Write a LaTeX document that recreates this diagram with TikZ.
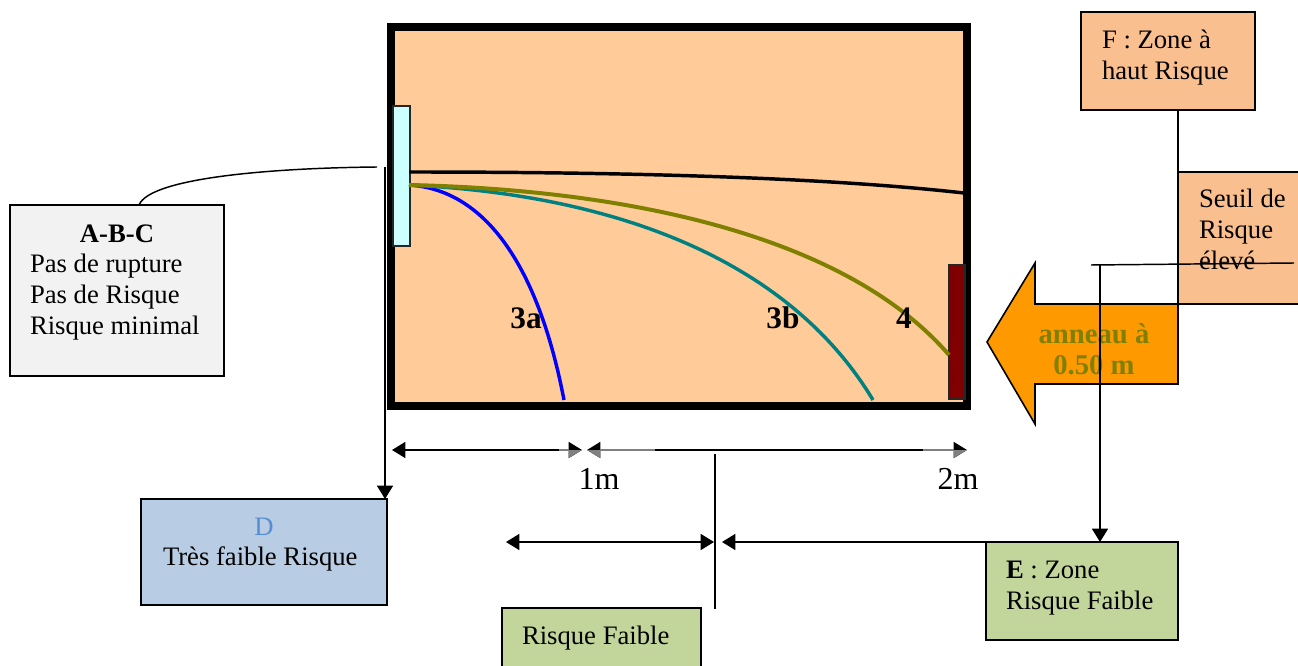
\documentclass[tikz,border=0pt]{standalone}
\usepackage{fontspec}
\setmainfont{Liberation Serif}
\usetikzlibrary{arrows.meta}
\definecolor{roomfill}{HTML}{FFCC99}
\definecolor{peach}{HTML}{FABF8F}
\definecolor{palegrey}{HTML}{F2F2F2}
\definecolor{paleblue}{HTML}{B8CCE4}
\definecolor{palegreen}{HTML}{C2D69B}
\definecolor{dlabel}{HTML}{558ED5}
\definecolor{olivec}{HTML}{808000}
\definecolor{tealc}{HTML}{008080}
\definecolor{orangec}{HTML}{FF9900}
\definecolor{cyanc}{HTML}{CCFFFF}
\definecolor{maroonc}{HTML}{800000}
\tikzset{
  x=0.75pt,y=-0.75pt,
  base/.style={inner sep=0pt,outer sep=0pt,anchor=north west},
  box/.style={base,draw=black,line width=1.5pt},
  txt/.style={inner sep=0pt,outer sep=0pt,anchor=west,align=left,font=\fontsize{20}{23.25}\selectfont},
  curvelabel/.style={inner sep=0pt,outer sep=0pt,font=\fontsize{23.5}{26}\selectfont\bfseries},
  conn/.style={black,line width=1.1pt},
  tip/.style={conn,-{Triangle[length=10pt,width=12pt]}},
  tips/.style={conn,{Triangle[length=10pt,width=12pt]}-{Triangle[length=10pt,width=12pt]}},
  curveline/.style={line width=2.6pt},
}
\begin{document}
\begin{tikzpicture}
\clip (0,0) rectangle (1298,666);
% room
\node[base,draw=black,fill=roomfill,line width=6pt,minimum width=432pt,minimum height=284.25pt] (room) at (391,27) {};
\node[box,fill=cyanc,draw=black!85,minimum width=12.5pt,minimum height=105pt] (source) at (393,106) {};
\node[box,fill=maroonc,draw=black!85,minimum width=12.5pt,minimum height=100pt] (ring) at (948.5,265.5) {};
% curves
\coordinate (s1) at (409,172);
\coordinate (s2) at (409,185);
\coordinate (e0) at (964,193);
\coordinate (e3a) at (564,400);
\coordinate (e3b) at (873,400);
\coordinate (e4) at (949,355);
\draw[curveline,blue] (s2) .. controls (490,190) and (540,275) .. (e3a);
\draw[curveline,tealc] (s2) .. controls (620,195) and (790,262) .. (e3b);
\draw[curveline,olivec,line width=3pt] (s2) .. controls (640,190) and (850,240) .. (e4);
\draw[curveline,black] (s1) .. controls (640,172) and (830,178) .. (e0);
\node[curvelabel] (l3a) at (526,318) {3a};
\node[curvelabel] (l3b) at (783,318) {3b};
\node[curvelabel] (l4) at (904,318) {4};
% boxes
\node[box,fill=palegrey,minimum width=160.5pt,minimum height=128.25pt] (abc) at (10,205) {};
\node[box,fill=paleblue,minimum width=184.5pt,minimum height=79.5pt] (d) at (141,499) {};
\node[box,fill=palegreen,minimum width=144pt,minimum height=73.5pt] (e) at (986,542) {};
\node[box,fill=palegreen,minimum width=149.25pt,minimum height=50pt] (rf) at (502,608) {};
\node[box,fill=peach,minimum width=130.5pt,minimum height=73.5pt] (f) at (1081,12) {};
\node[box,fill=peach,minimum width=110pt,minimum height=99pt] (seuil) at (1178,172) {};
% block arrow
\draw[fill=orangec,draw=black,line width=1.2pt,line join=miter]
  (1178,304) -- (1035,304) -- (1035,263) -- (987,342) -- (1035,424) -- (1035,384) -- (1178,384) -- cycle;
\node[inner sep=0pt,text=olivec,align=center,font=\fontsize{21.5}{23.25}\selectfont\bfseries] (ringlabel) at (1094,349) {anneau à\\0.50 m};
% texts
\node[inner sep=0pt,font=\fontsize{20}{23.25}\selectfont\bfseries] (abct) at (117,234) {A-B-C};
\node[txt] (abcb) at (30,297) {Pas de rupture\\Pas de Risque\\Risque minimal};
\node[inner sep=0pt,text=dlabel,font=\fontsize{20}{23.25}\selectfont] (dt) at (264,527) {D};
\node[txt] (db) at (163,559) {Très faible Risque};
\node[txt] (et) at (1006,588) {\textbf{E} : Zone\\Risque Faible};
\node[txt] (rft) at (522,638) {Risque Faible};
\node[txt] (ft) at (1102,58) {F : Zone à\\haut Risque};
\node[txt] (st) at (1199,229) {Seuil de\\Risque\\élevé};
\node[inner sep=0pt,font=\fontsize{24}{26}\selectfont] (m1) at (599,479) {1m};
\node[inner sep=0pt,font=\fontsize{24}{26}\selectfont] (m2) at (958,479) {2m};
% connectors
\coordinate (abcc) at (139,205);
\coordinate (srcc) at (377,167);
\draw[conn] (abcc) .. controls (150,178) and (270,168) .. (srcc);
\coordinate (dtop) at (385,167);
\draw[tip] (dtop) -- (d.north east -| dtop);
\draw[conn] (f.south -| seuil.north west) -- (seuil.north west);
\coordinate (hl) at (1091,265);
\coordinate (hr) at (1294,263);
\draw[conn] (hl) -- (hr);
\coordinate (ve) at (1100,265);
\draw[tip] (ve) -- (e.north west -| ve);
% dimensions
\coordinate (a1) at (392,450);
\coordinate (a2) at (582,450);
\coordinate (a3) at (587,450);
\coordinate (a4) at (967,450);
\draw[tips] (a1) -- (a2);
\draw[tips] (a3) -- (a4);
\fill[gray] (582,450) -- (569,450) -- (569,458) -- cycle;
\fill[gray] (587,450) -- (600,450) -- (600,458) -- cycle;
\fill[gray] (967,450) -- (954,450) -- (954,458) -- cycle;
\draw[gray,line width=1.1pt] (559,450) -- (569,450);
\draw[gray,line width=1.1pt] (600,450) -- (655,450);
\draw[gray,line width=1.1pt] (923,450) -- (954,450);
\coordinate (vt) at (715,454);
\coordinate (vb) at (715,609);
\draw[conn] (vt) -- (vb);
\coordinate (b1) at (506,542);
\coordinate (b2) at (714,542);
\coordinate (b3) at (722,542);
\draw[tips] (b1) -- (b2);
\draw[tip] (e.north west) -- (b3);
\end{tikzpicture}
\end{document}
